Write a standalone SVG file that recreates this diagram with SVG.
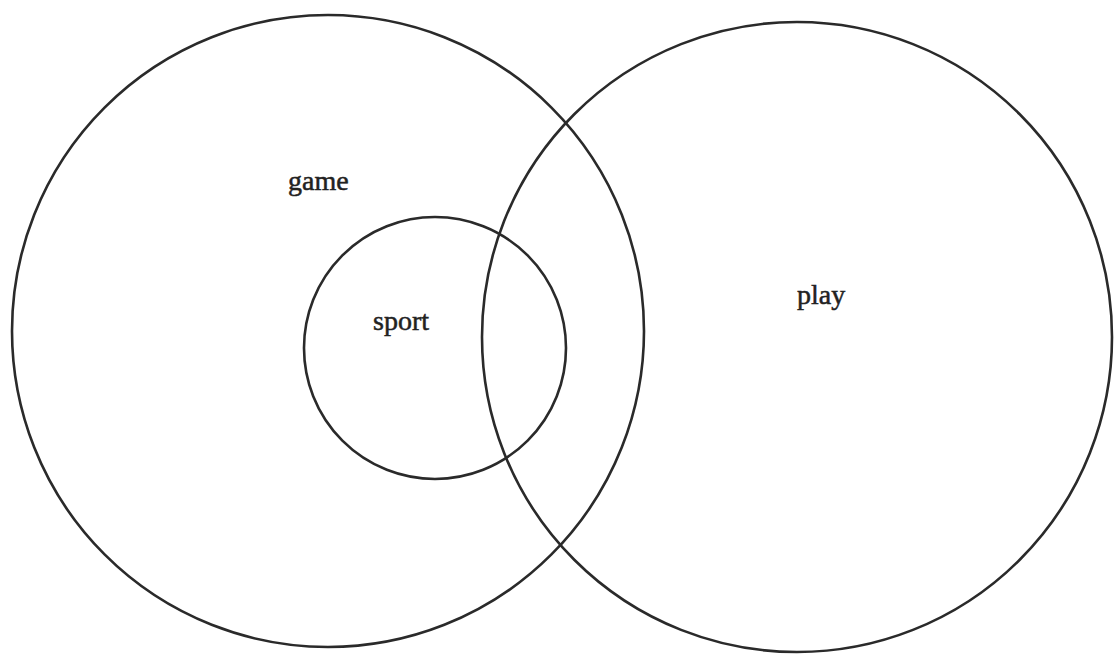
<svg xmlns="http://www.w3.org/2000/svg" width="1117" height="655" viewBox="0 0 1117 655">
<style>
.c{fill:none;stroke:#2a2a2a;stroke-width:2.6}
.t{font-family:"Liberation Serif","Times New Roman",serif;font-size:28px;fill:#222;stroke:#222;stroke-width:0.5}
</style>
<rect width="1117" height="655" fill="#fff"/>
<g id="game"><circle class="c" cx="328" cy="331" r="316"/><text class="t" x="288" y="190">game</text></g>
<g id="play"><circle class="c" cx="797" cy="337" r="315"/><text class="t" x="797" y="304">play</text></g>
<g id="sport"><circle class="c" cx="435" cy="348" r="131"/><text class="t" x="373" y="330">sport</text></g>
<g id="connectors"></g>
</svg>
